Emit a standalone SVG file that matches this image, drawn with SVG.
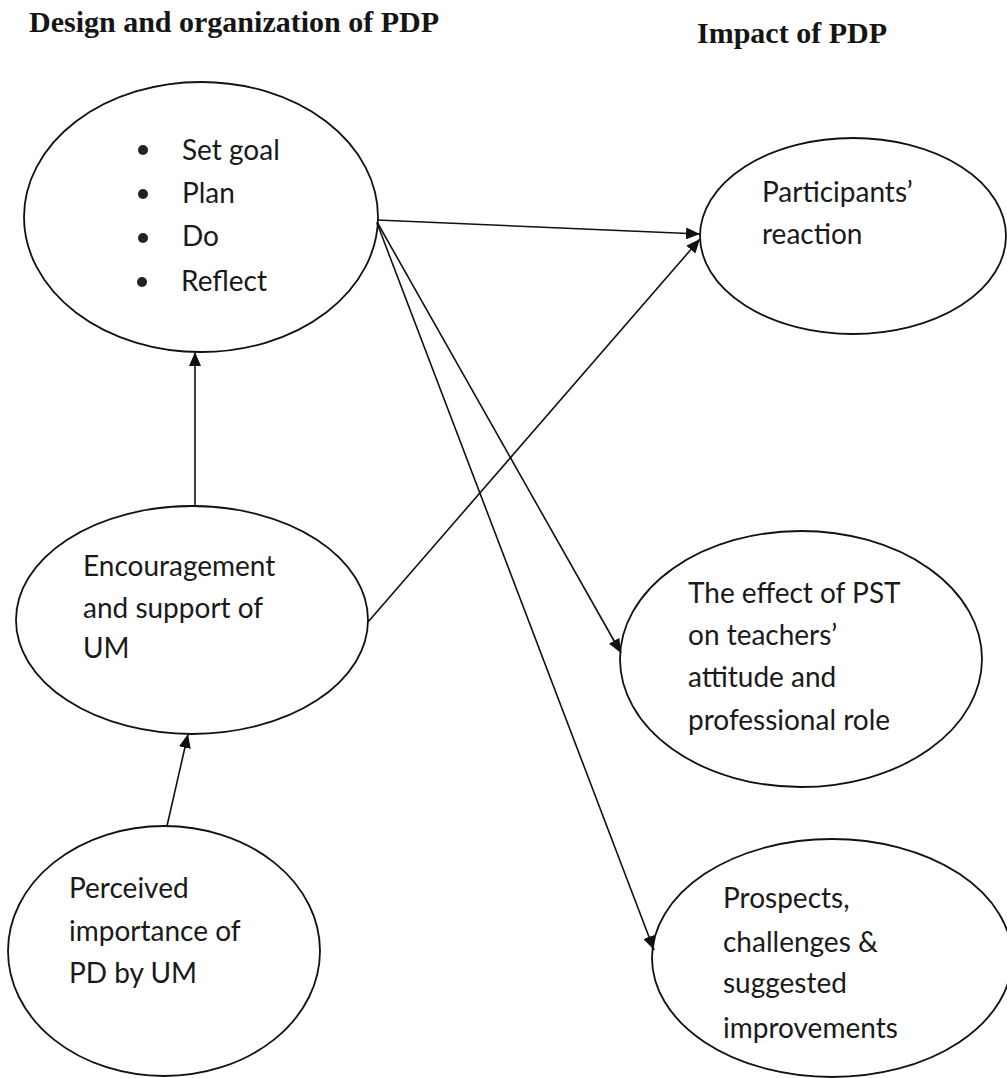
<svg xmlns="http://www.w3.org/2000/svg" width="1007" height="1078" viewBox="0 0 1007 1078">
<style>
.title{font-family:"Liberation Serif","Times New Roman",serif;font-weight:bold;font-size:30px;fill:#151515}
.lbl{font-family:Lato,"Open Sans",sans-serif;font-size:28px;fill:#1a1a1a}
.node ellipse{fill:#fff;stroke:#111;stroke-width:1.8}
.conn line{stroke:#111;stroke-width:1.6;fill:none}
</style>
<defs>
<marker id="ah" markerUnits="userSpaceOnUse" viewBox="0 0 14 12" refX="14" refY="6" markerWidth="14" markerHeight="12" orient="auto">
<path d="M0,0 L14,6 L0,12 z" fill="#111"/>
</marker>
</defs>
<rect width="1007" height="1078" fill="#fff"/>
<text class="title" x="29" y="32">Design and organization of PDP</text>
<text class="title" x="697" y="43">Impact of PDP</text>

<g id="n-steps" class="node">
<ellipse cx="201" cy="217" rx="177" ry="135"/>
<circle cx="143" cy="150" r="5" fill="#222"/>
<circle cx="143" cy="194" r="5" fill="#222"/>
<circle cx="143" cy="238" r="5" fill="#222"/>
<circle cx="142" cy="282" r="5" fill="#222"/>
<text class="lbl" x="182" y="160">Set goal</text>
<text class="lbl" x="182" y="203">Plan</text>
<text class="lbl" x="182" y="246">Do</text>
<text class="lbl" x="181" y="291">Reflect</text>
</g>

<g id="n-reaction" class="node">
<ellipse cx="853" cy="236" rx="153" ry="98"/>
<text class="lbl" x="762" y="202">Participants’</text>
<text class="lbl" x="762" y="244">reaction</text>
</g>

<g id="n-encouragement" class="node">
<ellipse cx="192" cy="620" rx="176" ry="114"/>
<text class="lbl" x="83" y="576">Encouragement</text>
<text class="lbl" x="83" y="618">and support of</text>
<text class="lbl" x="83" y="658">UM</text>
</g>

<g id="n-effect" class="node">
<ellipse cx="801" cy="659" rx="181" ry="128"/>
<text class="lbl" x="688" y="603">The effect of PST</text>
<text class="lbl" x="688" y="645">on teachers’</text>
<text class="lbl" x="688" y="687">attitude and</text>
<text class="lbl" x="688" y="730">professional role</text>
</g>

<g id="n-perceived" class="node">
<ellipse cx="164" cy="951" rx="156" ry="125"/>
<text class="lbl" x="69" y="898">Perceived</text>
<text class="lbl" x="69" y="941">importance of</text>
<text class="lbl" x="69" y="983">PD by UM</text>
</g>

<g id="n-prospects" class="node">
<ellipse cx="832" cy="958" rx="180" ry="119"/>
<text class="lbl" x="723" y="908">Prospects,</text>
<text class="lbl" x="723" y="952">challenges &amp;</text>
<text class="lbl" x="723" y="993">suggested</text>
<text class="lbl" x="723" y="1038">improvements</text>
</g>

<g id="connectors" class="conn">
<line x1="377" y1="220" x2="700" y2="234" marker-end="url(#ah)"/>
<line x1="368" y1="622" x2="700" y2="239" marker-end="url(#ah)"/>
<line x1="377" y1="222" x2="621" y2="653" marker-end="url(#ah)"/>
<line x1="377" y1="223" x2="654" y2="950" marker-end="url(#ah)"/>
<line x1="195" y1="506" x2="195" y2="352" marker-end="url(#ah)"/>
<line x1="167" y1="826" x2="188" y2="734" marker-end="url(#ah)"/>
</g>
</svg>
